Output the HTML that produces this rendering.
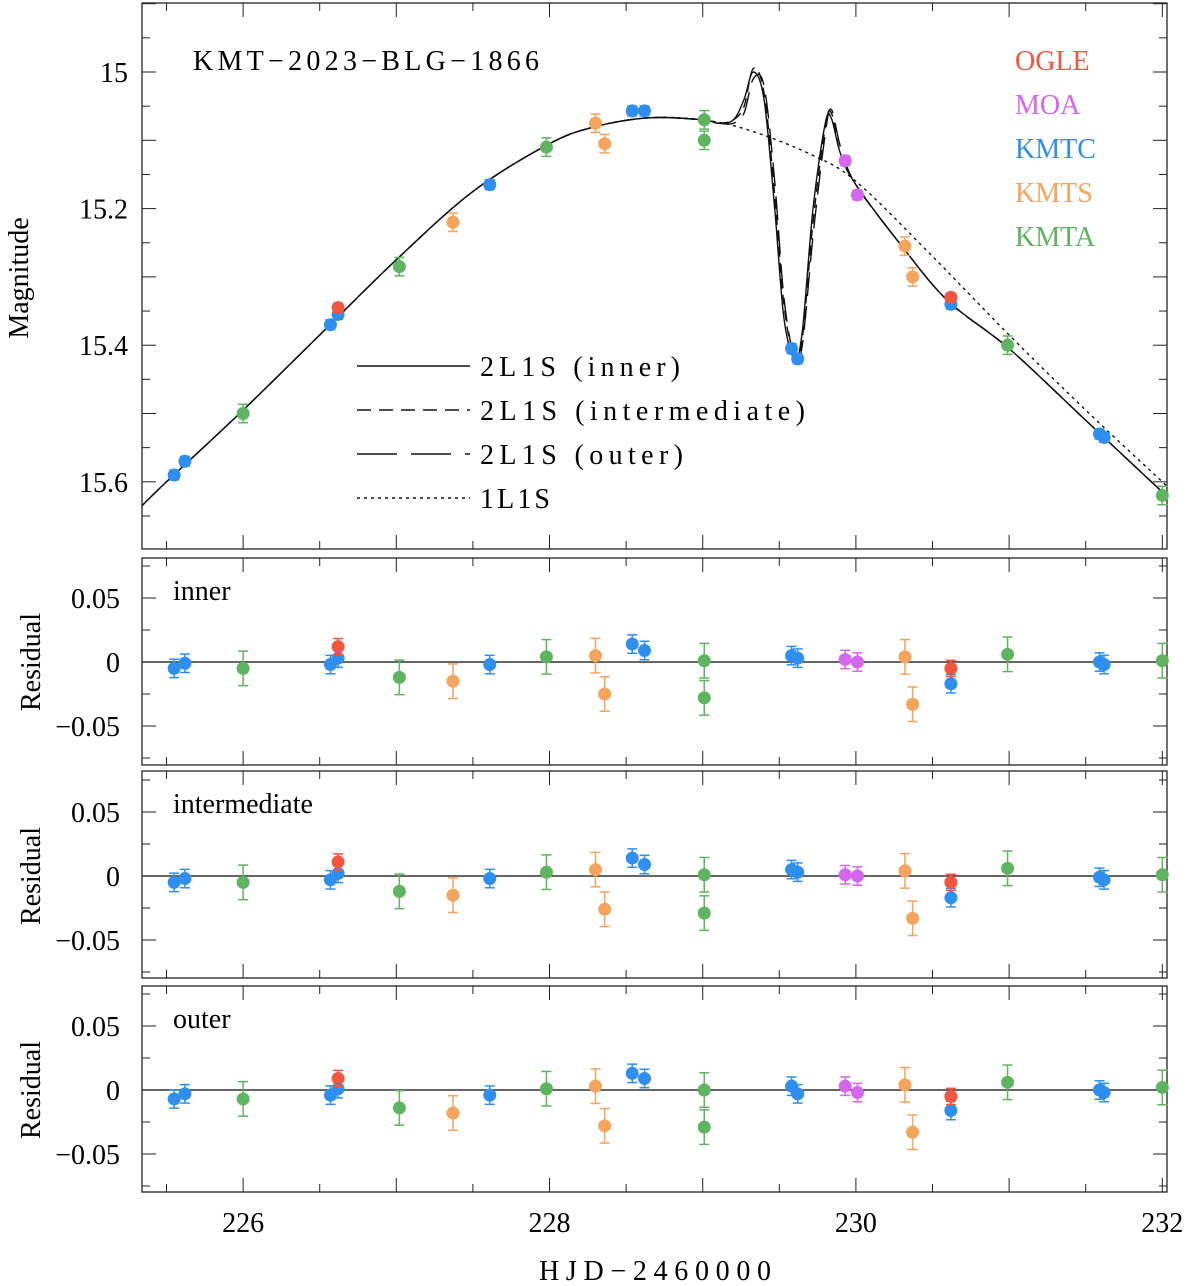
<!DOCTYPE html>
<html><head><meta charset="utf-8"><style>
body{margin:0;background:#fff}
svg{display:block}
text{font-family:"Liberation Serif","DejaVu Serif",serif;}
</style></head><body>
<svg id="c" width="1200" height="1286" xmlns="http://www.w3.org/2000/svg"></svg>
<script>
const tOgle=[226.62,230.62], mOgle=[15.345,15.33];
const tMoa=[229.93,230.01], mMoa=[15.13,15.18];
const tKmtc=[225.55,225.62,226.57,226.62,227.61,228.54,228.62,229.58,229.62,230.62,231.59,231.62];
const mKmtc=[15.59,15.57,15.37,15.355,15.165,15.057,15.057,15.405,15.42,15.34,15.53,15.535];
const tKmts=[227.37,228.3,228.36,230.32,230.37];
const mKmts=[15.22,15.075,15.105,15.255,15.3];
const tKmta=[226.0,227.02,227.98,229.01,229.01,230.99,232.0];
const mKmta=[15.5,15.285,15.11,15.07,15.1,15.4,15.62];
// residuals per model: [inner, intermediate, outer]
const rOgle=[[0.012,-0.005],[0.011,-0.005],[0.009,-0.005]];
const rMoa=[[0.002,0.0],[0.001,0.0],[0.003,-0.002]];
const rKmtc=[[-0.005,-0.001,-0.002,0.003,-0.002,0.014,0.009,0.005,0.003,-0.017,0.0,-0.002],[-0.005,-0.002,-0.003,0.002,-0.002,0.014,0.009,0.005,0.003,-0.017,-0.001,-0.003],[-0.007,-0.003,-0.004,0.001,-0.004,0.013,0.009,0.003,-0.003,-0.016,0.0,-0.002]];
const rKmts=[[-0.015,0.005,-0.025,0.004,-0.033],[-0.015,0.005,-0.026,0.004,-0.033],[-0.018,0.003,-0.028,0.004,-0.033]];
const rKmta=[[-0.005,-0.012,0.004,0.001,-0.028,0.006,0.001],[-0.005,-0.012,0.003,0.001,-0.029,0.006,0.001],[-0.007,-0.014,0.001,0.0,-0.029,0.006,0.002]];
const eKmtc=0.008, eOther=0.015, eOgle=0.007;
const modelT=[225.34,225.5,226,226.5,227,227.5,228,228.3,228.65,229,229.1,229.2,229.27,229.33,229.4,229.47,229.53,229.6,229.65,229.72,229.8,229.84,229.9,230,230.3,230.6,231,231.5,232,232.03];
const mInner=[15.635,15.6,15.495,15.385,15.275,15.175,15.105,15.08,15.067,15.07,15.075,15.07,15.04,15.0,15.04,15.2,15.36,15.42,15.38,15.2,15.075,15.068,15.12,15.165,15.255,15.335,15.405,15.51,15.615,15.62];
const mInter=[15.635,15.6,15.495,15.385,15.275,15.175,15.105,15.08,15.067,15.07,15.075,15.07,15.05,14.995,15.03,15.18,15.34,15.42,15.39,15.22,15.08,15.06,15.12,15.165,15.255,15.335,15.405,15.51,15.615,15.62];
const mOuter=[15.635,15.6,15.495,15.385,15.275,15.175,15.105,15.08,15.067,15.07,15.075,15.075,15.06,15.01,15.02,15.16,15.33,15.42,15.4,15.24,15.09,15.055,15.11,15.165,15.255,15.335,15.405,15.51,15.615,15.62];
const pT=[225.34,225.5,226,226.5,227,227.5,228,228.3,228.65,229,229.3,229.7,230,230.5,231,231.5,232,232.03];
const pM=[15.635,15.6,15.495,15.385,15.275,15.175,15.105,15.08,15.067,15.07,15.085,15.12,15.16,15.27,15.385,15.495,15.6,15.606];
const xTicks=[226,228,230,232];
const magTicks=[15,15.2,15.4,15.6];
const resTicks=[0.05,0,-0.05];

const NS='http://www.w3.org/2000/svg', svg=document.getElementById('c');
function el(tag,at,parent){const e=document.createElementNS(NS,tag);for(const k in at)e.setAttribute(k,at[k]);(parent||svg).appendChild(e);return e;}
const X0=142,X1=1167;
const xs=t=>X0+(t-225.34)*153.2;
const my=m=>72+(m-15)*683;
const panels=[{top:558,bot:765,z:662,name:'inner'},{top:771,bot:978,z:876,name:'intermediate'},{top:986,bot:1192,z:1090,name:'outer'}];
const C={ogle:'#f4553f',moa:'#d566f0',kmtc:'#2f8ff0',kmts:'#f5a45e',kmta:'#5fb55f'};
const defs=el('defs',{});
const cp=el('clipPath',{id:'clipMain'},defs);el('rect',{x:X0,y:3,width:X1-X0,height:546},cp);

function frame(top,bot,name){
  const r=el('rect',{x:X0,y:top,width:X1-X0,height:bot-top,fill:'none',stroke:'#222','stroke-width':1.3});
  
  
  for(let t=225.5;t<=232.01;t+=0.5){const x=xs(t),L=Math.abs(t-Math.round(t))<0.01?14:8;
    el('line',{x1:x,x2:x,y1:bot,y2:bot-L,stroke:'#222'});el('line',{x1:x,x2:x,y1:top,y2:top+L,stroke:'#222'});}
}
frame(3,549,'main-panel');
for(let m=14.9;m<=15.71;m+=0.05){const y=my(m);if(y<3||y>549)continue;const L=(Math.round(m*100)%10===0)?14:8;
  el('line',{x1:X0,x2:X0+L,y1:y,y2:y,stroke:'#222'});el('line',{x1:X1,x2:X1-L,y1:y,y2:y,stroke:'#222'});}
magTicks.forEach(m=>{const t=el('text',{x:128,y:my(m)+10,'font-size':28,'text-anchor':'end'});t.textContent=String(m);
  
  });
let yl=el('text',{x:0,y:0,'font-size':28,'text-anchor':'middle',transform:'translate(28,278) rotate(-90)'});yl.textContent='Magnitude';


let ti=el('text',{x:193,y:70,'font-size':28,textLength:346});ti.textContent='KMT−2023−BLG−1866';


// smooth (Catmull-Rom) path
function poly(T,M,dash,name){
  const P=T.map((t,i)=>[xs(t),my(M[i])]);
  let d='M'+P[0][0].toFixed(1)+','+P[0][1].toFixed(1);
  for(let i=0;i<P.length-1;i++){const p0=P[i-1]||P[i],p1=P[i],p2=P[i+1],p3=P[i+2]||p2;
    const c1=[p1[0]+(p2[0]-p0[0])/6,p1[1]+(p2[1]-p0[1])/6],c2=[p2[0]-(p3[0]-p1[0])/6,p2[1]-(p3[1]-p1[1])/6];
    d+='C'+c1.map(v=>v.toFixed(1)).join(',')+' '+c2.map(v=>v.toFixed(1)).join(',')+' '+p2.map(v=>v.toFixed(1)).join(',');}
  const p=el('path',{d:d,fill:'none',stroke:'#111','stroke-width':1.4,'stroke-dasharray':dash,'clip-path':'url(#clipMain)'});
  
  }
poly(pT,pM,'3,4','model-1l1s');
poly(modelT,mOuter,'24,10','model-outer');
poly(modelT,mInter,'10,6','model-intermediate');
poly(modelT,mInner,'none','model-inner');
const leg=[['none','2L1S (inner)'],['14,8','2L1S (intermediate)'],['40,14','2L1S (outer)'],['3,4','1L1S']];
const legW=[200,325,203,70];
leg.forEach((l,i)=>{const y=366+i*44;el('line',{x1:357,x2:470,y1:y,y2:y,stroke:'#111','stroke-width':1.4,'stroke-dasharray':l[0]});
  const t=el('text',{x:480,y:y+10,'font-size':28,textLength:legW[i]});t.textContent=l[1];
  
  });
const obsNames=[['OGLE','ogle'],['MOA','moa'],['KMTC','kmtc'],['KMTS','kmts'],['KMTA','kmta']];
obsNames.forEach((o,i)=>{const t=el('text',{x:1015,y:70+i*44,'font-size':28,fill:C[o[1]]});t.textContent=o[0];
  
  });
function pt(x,y,e,col,name){el('line',{x1:x,x2:x,y1:y-e,y2:y+e,stroke:col,'stroke-width':1.5});
  el('line',{x1:x-5,x2:x+5,y1:y-e,y2:y-e,stroke:col,'stroke-width':1.5});el('line',{x1:x-5,x2:x+5,y1:y+e,y2:y+e,stroke:col,'stroke-width':1.5});
  const c=el('circle',{cx:x,cy:y,r:6.5,fill:col});
  
  }
const sets=[[tKmta,mKmta,'kmta',eOther],[tKmts,mKmts,'kmts',eOther],[tKmtc,mKmtc,'kmtc',eKmtc],[tOgle,mOgle,'ogle',eOgle],[tMoa,mMoa,'moa',eKmtc]];
sets.forEach(s=>s[0].forEach((t,i)=>pt(xs(t),my(s[1][i]),s[3]*683*0.9,C[s[2]],'point-'+s[2])));
const rsets=[[tKmta,rKmta,'kmta',eOther],[tKmts,rKmts,'kmts',eOther],[tKmtc,rKmtc,'kmtc',eKmtc],[tOgle,rOgle,'ogle',eOgle],[tMoa,rMoa,'moa',eKmtc]];
panels.forEach((P,k)=>{
  frame(P.top,P.bot,'residual-panel-'+P.name);
  const ry=v=>P.z-v*1280;
  for(let v=-0.075;v<=0.0751;v+=0.025){const y=ry(v);const L=(Math.abs(Math.round(v*1000))%50===0)?14:8;
    el('line',{x1:X0,x2:X0+L,y1:y,y2:y,stroke:'#222'});el('line',{x1:X1,x2:X1-L,y1:y,y2:y,stroke:'#222'});}
  el('line',{x1:X0,x2:X1,y1:P.z,y2:P.z,stroke:'#333','stroke-width':1.5});
  resTicks.forEach(v=>{const t=el('text',{x:120,y:ry(v)+10,'font-size':28,'text-anchor':'end'});t.textContent=v===0?'0':(v<0?'−0.05':'0.05');
    
    });
  const yt=el('text',{x:0,y:0,'font-size':28,'text-anchor':'middle',transform:'translate(40,'+(P.z)+') rotate(-90)'});yt.textContent='Residual';
  
  
  const lb=el('text',{x:173,y:P.top+42,'font-size':28});lb.textContent=P.name;
  
  
  rsets.forEach(s=>s[0].forEach((t,i)=>pt(xs(t),ry(s[1][k][i]),s[3]*1280*0.9,C[s[2]],'residual-'+s[2])));
});
xTicks.forEach(t=>{const e=el('text',{x:xs(t),y:1232,'font-size':28,'text-anchor':'middle'});e.textContent=String(t);
  
  });
const xl=el('text',{x:655,y:1280,'font-size':28,'text-anchor':'middle',textLength:232});xl.textContent='HJD−2460000';


</script>
</body></html>
